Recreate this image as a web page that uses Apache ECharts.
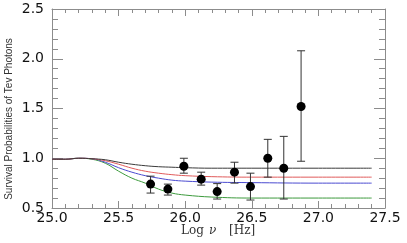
<!DOCTYPE html>
<html><head><meta charset="utf-8">
<script src="https://cdn.jsdelivr.net/npm/echarts@6/dist/echarts.min.js"></script>
<style>html,body{margin:0;padding:0;background:#fff}#c{width:407px;height:243px}</style>
</head><body><div id="c"></div>
<script>
// Curve abscissae (log nu)
var curveX = [25.0, 25.1, 25.2, 25.3, 25.4, 25.5, 25.6, 25.7, 25.8, 25.9, 26.0, 26.2, 26.5, 27.0, 27.4];
var blackCurve = [0.99, 0.99, 1.0, 0.995, 0.985, 0.96, 0.94, 0.925, 0.915, 0.91, 0.905, 0.90, 0.90, 0.90, 0.90];
var redCurve   = [0.99, 0.99, 1.0, 0.995, 0.975, 0.94, 0.90, 0.87, 0.85, 0.835, 0.825, 0.815, 0.81, 0.81, 0.81];
var blueCurve  = [0.99, 0.99, 1.0, 0.995, 0.96, 0.905, 0.86, 0.825, 0.80, 0.78, 0.77, 0.76, 0.755, 0.75, 0.75];
var greenCurve = [0.99, 0.99, 1.0, 0.99, 0.95, 0.87, 0.80, 0.75, 0.69, 0.65, 0.63, 0.61, 0.60, 0.60, 0.60];
// Observed points
var obsX    = [25.74, 25.87, 25.99, 26.12, 26.24, 26.37, 26.49, 26.62, 26.74, 26.87];
var obsY    = [0.74, 0.69, 0.92, 0.79, 0.665, 0.86, 0.715, 1.00, 0.90, 1.52];
var obsLow  = [0.65, 0.63, 0.85, 0.73, 0.59, 0.75, 0.58, 0.81, 0.59, 0.97];
var obsHigh = [0.82, 0.74, 1.00, 0.86, 0.745, 0.96, 0.85, 1.19, 1.22, 2.08];
var xTicks = [25.0, 25.5, 26.0, 26.5, 27.0, 27.5];
var yTicks = [0.5, 1.0, 1.5, 2.0, 2.5];

function pairs(xs, ys){ return xs.map(function(x,i){return [x, ys[i]];}); }
var axisCol = '#8c8c8c';
function xAx(pos, show){
  return {type:'value', position:pos, min:xTicks[0], max:xTicks[xTicks.length-1], interval:0.5,
    axisLine:{show:true, onZero:false, lineStyle:{color:axisCol, width:1}},
    axisTick:{show:true, inside:true, length:7, lineStyle:{color:axisCol}},
    minorTick:{show:true, splitNumber:5, length:4, lineStyle:{color:axisCol}},
    splitLine:{show:false},
    axisLabel:{show:show, margin:3, color:'#111', fontFamily:'DejaVu Sans', fontSize:14,
      formatter:function(v){return v.toFixed(1);}}};
}
function yAx(pos, show){
  return {type:'value', position:pos, min:yTicks[0], max:yTicks[yTicks.length-1], interval:0.5,
    axisLine:{show:true, onZero:false, lineStyle:{color:axisCol, width:1}},
    axisTick:{show:true, inside:true, length:11, lineStyle:{color:axisCol}},
    minorTick:{show:true, splitNumber:5, length:6, lineStyle:{color:axisCol}},
    splitLine:{show:false},
    axisLabel:{show:show, margin:8, color:'#111', fontFamily:'DejaVu Sans', fontSize:14,
      formatter:function(v){return v.toFixed(1);}}};
}
var chart = echarts.init(document.getElementById('c'), null, {renderer:'canvas'});
function lineS(data, color){
  return {type:'line', data:pairs(curveX, data), smooth:0.4, showSymbol:false, symbol:'none',
    lineStyle:{color:color, width:1}, z:2, animation:false};
}
var serifFont = '12px "DejaVu Serif"';
chart.setOption({
  animation:false,
  grid:{left:52, right:22, top:9, bottom:35, containLabel:false},
  xAxis:[xAx('bottom', true), xAx('top', false)],
  yAxis:[yAx('left', true), yAx('right', false)],
  graphic:[
    {type:'text', left:181, top:225, style:{text:'Log', fill:'#333', font:serifFont}},
    {type:'text', left:209, top:225, style:{text:'\u03bd', fill:'#333', font:'italic 12px "DejaVu Serif"'}},
    {type:'text', left:229, top:225, style:{text:'[Hz]', fill:'#333', font:serifFont}},
    {type:'text', x:9, y:119, rotation:Math.PI/2, originX:0, originY:0,
      style:{text:'Survival Probabilities of Tev Photons', fill:'#333', font:'10px "Liberation Sans"', textAlign:'center', textVerticalAlign:'middle'}}
  ],
  series:[
    lineS(greenCurve, '#3c9a3c'),
    lineS(blueCurve, '#4a4ad0'),
    lineS(redCurve, '#e05a5a'),
    lineS(blackCurve, '#3a3a3a'),
    {type:'custom', data:obsX.map(function(x,i){return [x, obsLow[i], obsHigh[i]];}), z:3,
      renderItem:function(params, api){
        var lo = api.coord([api.value(0), api.value(1)]);
        var hi = api.coord([api.value(0), api.value(2)]);
        var w = 4;
        var st = {stroke:'#333', lineWidth:1};
        return {type:'group', children:[
          {type:'line', shape:{x1:lo[0], y1:lo[1], x2:hi[0], y2:hi[1]}, style:st},
          {type:'line', shape:{x1:lo[0]-w, y1:lo[1], x2:lo[0]+w, y2:lo[1]}, style:st},
          {type:'line', shape:{x1:hi[0]-w, y1:hi[1], x2:hi[0]+w, y2:hi[1]}, style:st}
        ]};
      }},
    {type:'scatter', data:pairs(obsX, obsY), symbol:'circle', symbolSize:9, itemStyle:{color:'#000', opacity:1}, z:4}
  ]
});
</script></body></html>
